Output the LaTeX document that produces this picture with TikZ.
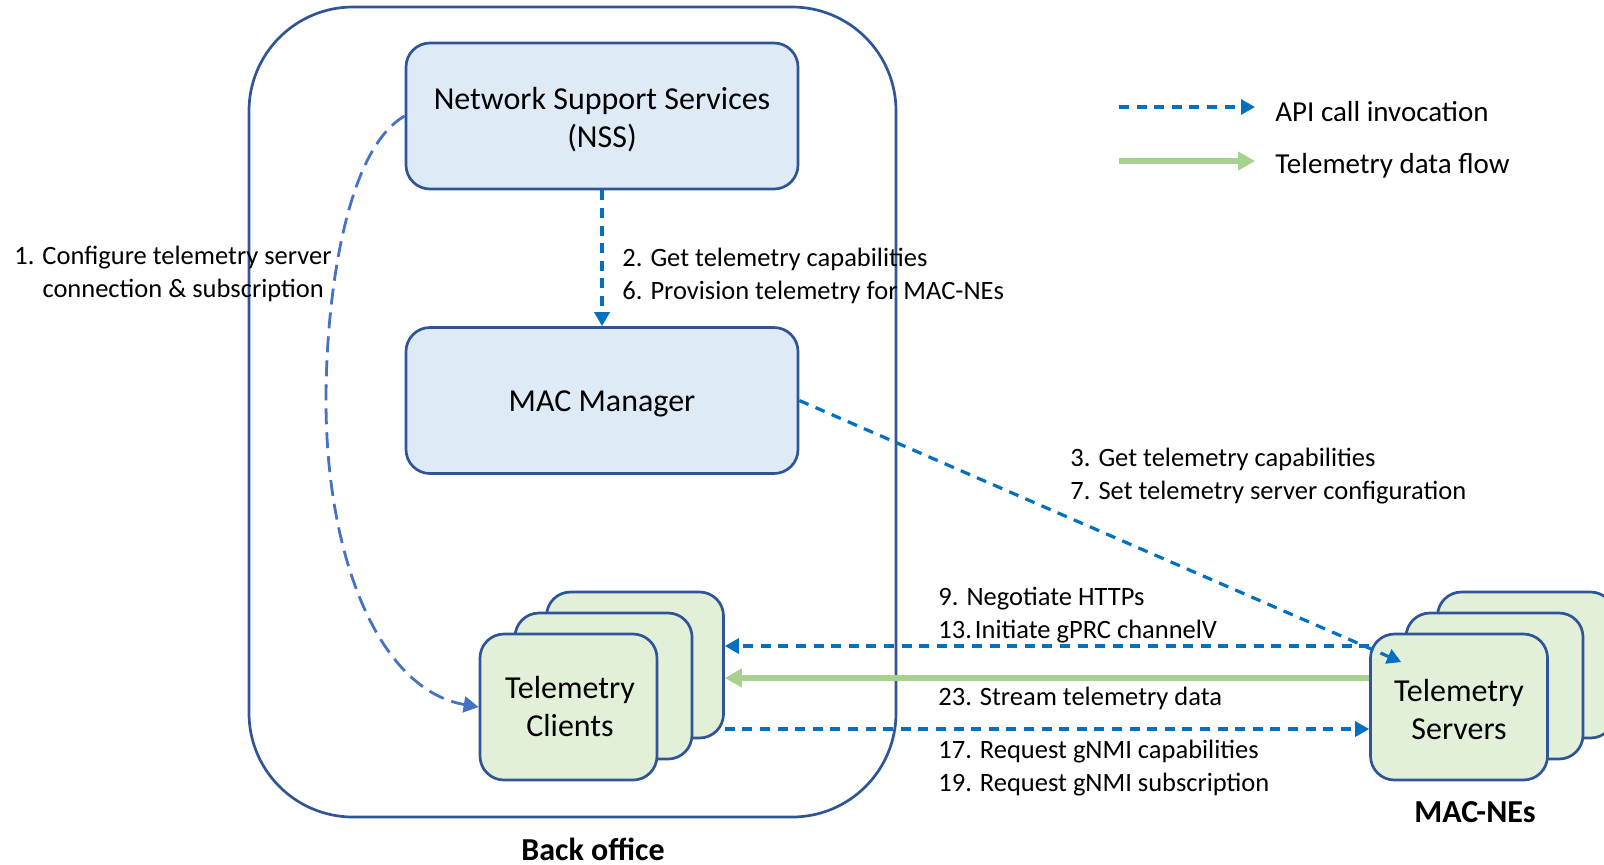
\documentclass[tikz,border=0pt]{standalone}
\usepackage{fontspec}
\setmainfont{Carlito}
\usetikzlibrary{arrows.meta,calc}
\definecolor{outl}{HTML}{2F5597}
\definecolor{nssfill}{HTML}{DEEBF7}
\definecolor{grfill}{HTML}{E2F0D9}
\definecolor{apiblue}{HTML}{0070C0}
\definecolor{cfgblue}{HTML}{4472C4}
\definecolor{flowgreen}{HTML}{A9D18E}
\begin{document}
\begin{tikzpicture}[x=0.5pt,y=-0.5pt,
  box/.style={draw=outl, line width=1.35pt, rounded corners=12pt, inner sep=0pt},
  boxtext/.style={inner sep=0pt, align=center, font=\fontsize{16}{19}\selectfont},
  bluebox/.style={box, fill=nssfill, minimum width=196pt, minimum height=73pt},
  greenbox/.style={box, fill=grfill, minimum width=88.5pt, minimum height=73pt},
  api/.style={draw=apiblue, line width=1.6pt, dash pattern=on 5pt off 3.8pt, -{Triangle[length=7pt,width=7.5pt]}},
  flow/.style={draw=flowgreen, line width=3.4pt, -{Triangle[length=8.5pt,width=9pt]}},
  cfg/.style={draw=cfgblue, line width=1.4pt, dash pattern=on 8pt off 4pt, -{Triangle[length=7.5pt,width=8pt]}},
  lbl/.style={anchor=west, inner sep=0pt, align=left, font=\fontsize{13.25}{16.5}\selectfont},
  titletext/.style={inner sep=0pt, font=\bfseries\fontsize{16}{19}\selectfont},
  legtext/.style={anchor=west, inner sep=0pt, font=\fontsize{14.5}{17}\selectfont}]
\useasboundingbox (0,0) rectangle (1604,864);
\clip (0,0) rectangle (1604,864);

% back office frame
\node[draw=outl, line width=1.35pt, rounded corners=52pt, minimum width=323.5pt, minimum height=405pt, inner sep=0pt] (bo) at (572.5,412) {};

% main boxes
\node[bluebox] (nss) at (602,116) {};
\node[boxtext] (nsst) at (602,120) {Network Support Services\\(NSS)};
\node[bluebox] (mac) at (602,400.5) {};
\node[boxtext] (mact) at (602,403.5) {MAC Manager};

% telemetry clients stack
\node[greenbox] (cb) at (635,665) {};
\node[greenbox] (cm) at (603.5,686) {};
\node[greenbox] (cf) at (568.5,707) {};
\node[boxtext] (cft) at (570,706) {Telemetry\\Clients};

% telemetry servers stack
\node[greenbox] (sb) at (1526,665) {};
\node[greenbox] (sm) at (1494.5,686) {};
\node[greenbox] (sf) at (1459,707) {};
\node[boxtext] (sft) at (1459,709) {Telemetry\\Servers};

% connectors
\draw[cfg] (nss.west) .. controls (345,150) and (326,300) .. (326,400) .. controls (326,560) and (380,690) .. (cf.west);
\draw[api] (nss.south) -- (mac.north);
\draw[api] (mac.east) -- ([xshift=16pt,yshift=22.5pt]sf.west);
\draw[api] ([yshift=30.5pt]sf.west) -- ([yshift=9.5pt]cb.east);
\draw[flow] ([yshift=14.5pt]sf.west) -- ([yshift=-6.5pt]cb.east);
\draw[api] ([yshift=-32pt]cb.east) -- ([yshift=-11pt]sf.west);

% labels
\node[lbl] (l1) at (14,274) {1. Configure telemetry server\\\hphantom{1. }connection \& subscription};
\node[lbl] (l2) at (622,275.5) {2. Get telemetry capabilities\\6. Provision telemetry for MAC-NEs};
\node[lbl] (l3) at (1070,476.5) {3. Get telemetry capabilities\\7. Set telemetry server configuration};
\node[lbl] (l9) at (938,615.5) {9. Negotiate HTTPs\\13.\kern1.5pt Initiate gPRC channelV};
\node[lbl] (l23) at (938,698) {23. Stream telemetry data};
\node[lbl] (l17) at (938,768) {17. Request gNMI capabilities\\19. Request gNMI subscription};

\node[titletext] (tbo) at (593,849) {Back office};
\node[titletext] (tne) at (1475,812) {MAC-NEs};

% legend
\coordinate (la1) at (1119,107);
\coordinate (la2) at (1255,107);
\coordinate (lg1) at (1119,161);
\coordinate (lg2) at (1255,161);
\draw[api] (la1) -- (la2);
\draw[flow] (lg1) -- (lg2);
\node[legtext] (lt1) at (1275,111.5) {API call invocation};
\node[legtext] (lt2) at (1275,165.5) {Telemetry data flow};
\end{tikzpicture}
\end{document}
